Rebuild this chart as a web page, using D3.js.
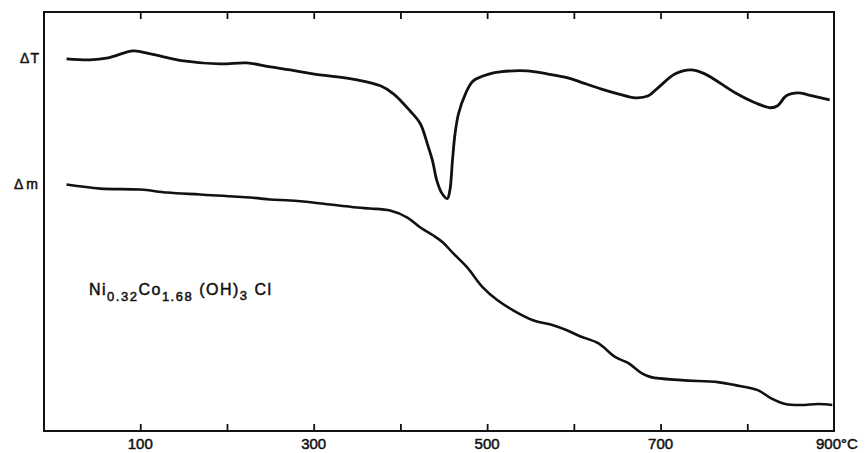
<!DOCTYPE html>
<html>
<head>
<meta charset="utf-8">
<script src="https://cdn.jsdelivr.net/npm/d3@7"></script>
<style>
  body { margin: 0; background: #fff; }
  text { font-family: "Liberation Sans", Arial, sans-serif; fill: #111; stroke: #111; stroke-width: 0.5px; }
</style>
</head>
<body>
<div id="chart"></div>
<script>
// temperatures in degC, signal in arbitrary units
var dtTemp = [15, 42, 63, 92, 112, 150, 192, 223, 250, 273, 299, 350, 377, 392, 411, 423, 431, 437, 442, 448, 454, 457, 460, 463, 467, 475, 484, 503, 515, 546, 569, 593, 607, 631, 651, 671, 686, 697, 717, 735, 751, 786, 809, 827, 835, 845, 859, 870, 895];
var dtValue = [373, 372, 374, 381, 378, 371, 368, 369, 365, 362, 358, 352, 346, 338, 321, 308, 288, 271, 251, 238, 233, 241, 271, 298, 318, 338, 351, 358, 360, 361, 358, 354, 350, 343, 338, 334, 336, 344, 358, 362, 358, 339, 329, 324, 326, 336, 339, 337, 332];

var dmTemp = [15, 54, 100, 131, 169, 227, 250, 273, 299, 350, 365, 388, 408, 423, 438, 449, 461, 477, 495, 512, 530, 553, 576, 592, 607, 628, 648, 663, 678, 689, 724, 766, 786, 812, 827, 844, 862, 882, 898];
var dmValue = [247, 243, 242, 239, 237, 234, 232, 231, 229, 224, 223, 221, 214, 204, 196, 189, 178, 164, 144, 131, 121, 111, 106, 101, 95, 88, 74, 68, 58, 54, 51, 49, 46, 41, 33, 27, 26, 27, 26];

var tickValues = [100, 200, 300, 400, 500, 600, 700, 800];
var tickLabels = [100, 300, 500, 700];

var chartW = 868, chartH = 453;
var plotLeft = 44, plotRight = 834, plotTop = 12, plotBottom = 431;

var x = d3.scaleLinear().domain([-11, 900]).range([plotLeft, plotRight]);
var y = d3.scaleLinear().domain([0, 420]).range([plotBottom, plotTop]);

var svg = d3.select("#chart").append("svg")
    .attr("width", chartW)
    .attr("height", chartH);

// frame
svg.append("rect")
    .attr("x", plotLeft)
    .attr("y", plotTop)
    .attr("width", plotRight - plotLeft)
    .attr("height", plotBottom - plotTop)
    .attr("fill", "none")
    .attr("stroke", "#111")
    .attr("stroke-width", 2);

// inward ticks, top and bottom
var xAxisBottom = d3.axisTop(x).tickValues(tickValues).tickSize(7).tickFormat("");
var xAxisTop = d3.axisBottom(x).tickValues(tickValues).tickSize(7).tickFormat("");

svg.append("g")
    .attr("transform", "translate(0," + plotBottom + ")")
    .call(xAxisBottom)
    .call(function(g) { g.select(".domain").remove(); })
    .selectAll("line").attr("stroke", "#111").attr("stroke-width", 1.8);

svg.append("g")
    .attr("transform", "translate(0," + plotTop + ")")
    .call(xAxisTop)
    .call(function(g) { g.select(".domain").remove(); })
    .selectAll("line").attr("stroke", "#111").attr("stroke-width", 1.8);

svg.selectAll(".xlabel")
    .data(tickLabels)
  .enter().append("text")
    .attr("class", "xlabel")
    .attr("x", function(d) { return x(d); })
    .attr("y", 449)
    .attr("text-anchor", "middle")
    .style("font-size", "15px")
    .text(function(d) { return d; });

svg.append("text")
    .attr("x", x(900) - 18)
    .attr("y", 449)
    .style("font-size", "15px")
    .text("900°C");

// curves
var line = d3.line()
    .x(function(d) { return x(d[0]); })
    .y(function(d) { return y(d[1]); })
    .curve(d3.curveCatmullRom.alpha(0.5));

svg.append("path")
    .datum(d3.zip(dtTemp, dtValue))
    .attr("d", line)
    .attr("fill", "none")
    .attr("stroke", "#111")
    .attr("stroke-width", 2.8)
    .attr("stroke-linejoin", "round");

svg.append("path")
    .datum(d3.zip(dmTemp, dmValue))
    .attr("d", line)
    .attr("fill", "none")
    .attr("stroke", "#111")
    .attr("stroke-width", 2.6)
    .attr("stroke-linejoin", "round");

// curve labels
svg.append("text")
    .attr("x", 40)
    .attr("y", 63)
    .attr("text-anchor", "end")
    .style("font-size", "14px")
    .style("letter-spacing", "1px")
    .text("ΔT");

svg.append("text")
    .attr("x", 41)
    .attr("y", 189)
    .attr("text-anchor", "end")
    .style("font-size", "14px")
    .style("letter-spacing", "3px")
    .text("Δm");

// compound formula
var formula = svg.append("text")
    .attr("x", 89)
    .attr("y", 295)
    .style("font-size", "16px")
    .style("letter-spacing", "1.5px");
formula.append("tspan").text("Ni");
formula.append("tspan").attr("dy", 6).style("font-size", "13px").text("0.32");
formula.append("tspan").attr("dy", -6).text("Co");
formula.append("tspan").attr("dy", 6).style("font-size", "13px").text("1.68");
formula.append("tspan").attr("dy", -6).text(" (OH)");
formula.append("tspan").attr("dy", 5).style("font-size", "13px").text("3");
formula.append("tspan").attr("dy", -5).text(" Cl");
</script>
</body>
</html>
